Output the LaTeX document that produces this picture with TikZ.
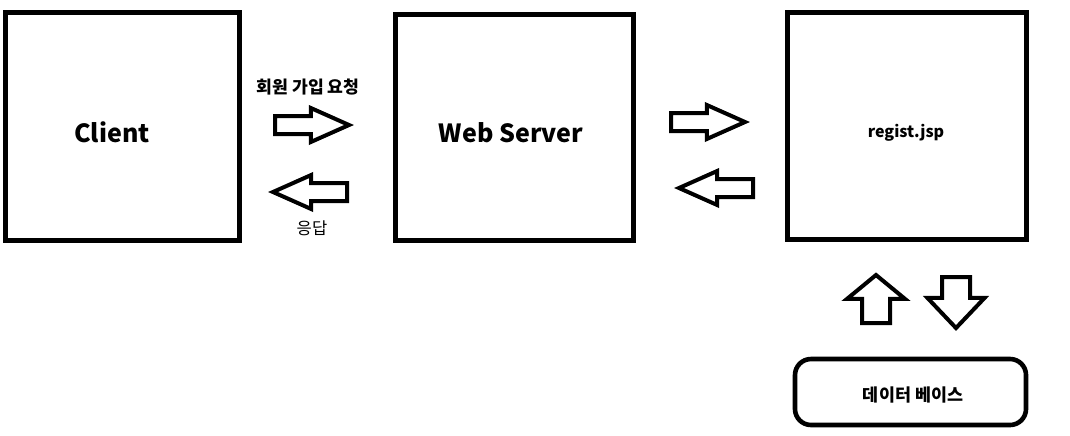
\documentclass[tikz,border=0pt]{standalone}
\usepackage{fontspec}
\setmainfont{Noto Sans CJK KR}
\usetikzlibrary{shapes.arrows}
\begin{document}
\begin{tikzpicture}[
		x=0.5pt, y=-0.5pt,
		box/.style   = {draw, line width=2.5pt, inner sep=0pt},
		dbbox/.style = {draw, line width=2.3pt, rounded corners=8pt, inner sep=0pt},
		arr/.style   = {draw, single arrow, line width=2pt, single arrow head indent=0pt},
		harr/.style  = {arr, inner xsep=0pt, inner ysep=3.5pt, single arrow head extend=4pt, minimum height=37pt, single arrow tip angle=48},
		varr/.style  = {arr, inner ysep=0pt, inner xsep=6pt},
		big/.style   = {font=\fontsize{12.5}{14}\selectfont\bfseries, inner sep=0pt},
		lbl/.style   = {font=\fontsize{8.3}{10}\selectfont, inner sep=0pt}
		]
		\useasboundingbox (0,0) rectangle (1070,435);
		
		% Boxes
		\node[box, minimum width=117pt, minimum height=114pt] (client) at (122,126) {};
		\node[box, minimum width=119pt, minimum height=113pt] (web) at (514,127) {};
		\node[box, minimum width=119.5pt, minimum height=113.5pt] (jsp) at (906.5,125.5) {};
		\node[dbbox, minimum width=115.5pt, minimum height=33pt] (db) at (910.5,392) {};
		
		% Box texts
		\node[big, anchor=base] (clientlbl) at (112,142) {Client};
		\node[big, anchor=base] (weblbl) at (511,142) {Web Server};
		\node[lbl, font=\fontsize{8}{10}\selectfont\bfseries, anchor=base] (jsplbl) at (906,137) {regist.jsp};
		\node[lbl, font=\fontsize{8.7}{10}\selectfont\bfseries] (dblbl) at (913,395) {데이터 베이스};
		
		% Client <-> Web Server
		\node[harr, anchor=tail] (req) at (273,125) {};
		\node[harr, anchor=tail, shape border rotate=180] (res) at (349,192) {};
		\node[lbl, font=\fontsize{8.6}{10}\selectfont\bfseries] (reqlbl) at (308,87) {회원 가입 요청};
		\node[lbl] (reslbl) at (312,228) {응답};
		
		% Web Server <-> regist.jsp
		\node[harr, anchor=tail] (fwd) at (669,122) {};
		\node[harr, anchor=tail, shape border rotate=180] (back) at (755,188) {};
		
		% regist.jsp <-> DB
		\node[varr, anchor=tail, shape border rotate=90, single arrow head extend=7.5pt,
			minimum height=24pt, single arrow tip angle=101] (up) at (876,325) {};
		\node[varr, anchor=tail, shape border rotate=270, single arrow head extend=7.25pt,
			minimum height=25.5pt, single arrow tip angle=87] (down) at (956,275) {};
	\end{tikzpicture}
\end{document}
